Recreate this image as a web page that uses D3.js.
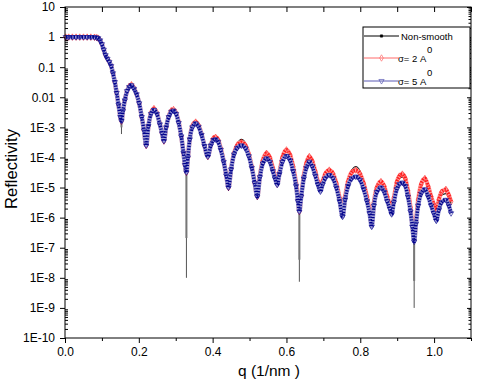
<!DOCTYPE html>
<html>
<head>
<meta charset="utf-8">
<script src="https://cdn.jsdelivr.net/npm/d3@7"></script>
<style>
	body { margin: 0; background: #fff; }
	text { font-family: Arial, "Liberation Sans", sans-serif; fill: #000; }
</style>
</head>
<body>
<div id="chart"></div>
<script>
'use strict';

// q values (1/nm), shared by the three curves
const q = [
	0.002, 0.01, 0.02, 0.03, 0.04, 0.05, 0.06, 0.07, 0.08, 0.086,
	0.09, 0.095, 0.1, 0.105, 0.11, 0.115, 0.12, 0.125, 0.13, 0.135, 0.14, 0.145, 0.15, 0.153,
	0.157, 0.162, 0.168, 0.174, 0.18, 0.187, 0.194, 0.201, 0.208, 0.214, 0.22,
	0.226, 0.233, 0.241, 0.249, 0.257, 0.263, 0.268,
	0.274, 0.281, 0.288, 0.294, 0.301, 0.308, 0.315, 0.321, 0.325, 0.329,
	0.333, 0.338, 0.345, 0.354, 0.362, 0.37, 0.378, 0.387,
	0.395, 0.402, 0.408, 0.415, 0.422, 0.43, 0.437, 0.443,
	0.45, 0.458, 0.467, 0.478, 0.489, 0.498, 0.506, 0.514, 0.521,
	0.528, 0.536, 0.546, 0.555, 0.563, 0.569, 0.575,
	0.581, 0.589, 0.6, 0.61, 0.618, 0.626, 0.631, 0.635,
	0.64, 0.647, 0.654, 0.662, 0.67, 0.678, 0.685, 0.692,
	0.698, 0.705, 0.716, 0.726, 0.735, 0.744, 0.752,
	0.759, 0.767, 0.777, 0.788, 0.799, 0.809, 0.818, 0.825, 0.831,
	0.837, 0.845, 0.856, 0.865, 0.873, 0.88, 0.885,
	0.891, 0.899, 0.906, 0.914, 0.922, 0.929, 0.936, 0.941, 0.946,
	0.951, 0.957, 0.965, 0.975, 0.984, 0.992, 0.999, 1.006,
	1.013, 1.02, 1.032, 1.04, 1.046
];

const nonSmooth = [
	1, 1, 1, 1, 1, 1, 1, 1, 0.99, 0.96,
	0.92, 0.78, 0.58, 0.38, 0.25, 0.19, 0.15, 0.11, 0.063, 0.032, 0.014, 5.6e-3, 2.2e-3, 1.6e-3,
	3.5e-3, 7.9e-3, 0.017, 0.026, 0.029, 0.023, 0.0135, 6.3e-3, 2.2e-3, 7.9e-4, 2.5e-4,
	1.1e-3, 2.9e-3, 4.0e-3, 2.9e-3, 1.3e-3, 6.3e-4, 3.5e-4,
	1.0e-3, 2.3e-3, 3.5e-3, 3.8e-3, 2.9e-3, 1.45e-3, 5.0e-4, 1.4e-4, 5.6e-5, 3.2e-5,
	1.0e-4, 4.1e-4, 1.05e-3, 1.45e-3, 1.1e-3, 5.8e-4, 2.4e-4, 1.07e-4,
	2.6e-4, 4.1e-4, 4.4e-4, 3.6e-4, 1.9e-4, 7.2e-5, 2.4e-5, 8.0e-6,
	4.0e-5, 1.4e-4, 2.9e-4, 4.0e-4, 3.0e-4, 1.4e-4, 5.0e-5, 1.4e-5, 4.5e-6,
	2.4e-5, 7.5e-5, 1.12e-4, 8.5e-5, 4.0e-5, 2.1e-5, 1.25e-5,
	3.0e-5, 9.0e-5, 1.58e-4, 1.05e-4, 4.5e-5, 1.3e-5, 3.8e-6, 1.6e-6,
	5.2e-6, 2.2e-5, 5.5e-5, 8.9e-5, 6.0e-5, 3.0e-5, 1.4e-5, 8.0e-6,
	1.5e-5, 2.6e-5, 3.5e-5, 2.7e-5, 1.3e-5, 4.0e-6, 1.1e-6,
	5.0e-6, 1.8e-5, 3.8e-5, 5.0e-5, 3.6e-5, 1.6e-5, 5.0e-6, 1.6e-6, 5.0e-7,
	3.0e-6, 9.0e-6, 1.4e-5, 1.0e-5, 4.5e-6, 2.4e-6, 1.6e-6,
	4.0e-6, 1.3e-5, 2.0e-5, 2.2e-5, 1.6e-5, 7.0e-6, 2.0e-6, 5.5e-7, 1.6e-7,
	7.0e-7, 3.5e-6, 1.1e-5, 1.6e-5, 9.0e-6, 4.0e-6, 2.2e-6, 1.26e-6,
	3.0e-6, 5.5e-6, 6.3e-6, 4.5e-6, 3.0e-6
];

const sigma2 = [
	1, 1, 1, 1, 1, 1, 1, 1, 0.99, 0.96,
	0.92, 0.78, 0.58, 0.38, 0.25, 0.19, 0.15, 0.11, 0.063, 0.032, 0.014, 5.6e-3, 2.2e-3, 1.6e-3,
	3.5e-3, 7.9e-3, 0.016, 0.023, 0.026, 0.020, 0.0126, 6.3e-3, 2.2e-3, 7.9e-4, 2.5e-4,
	1.1e-3, 3.0e-3, 4.2e-3, 3.0e-3, 1.3e-3, 6.3e-4, 3.5e-4,
	1.0e-3, 2.3e-3, 3.6e-3, 3.9e-3, 3.0e-3, 1.5e-3, 5.0e-4, 1.4e-4, 5.6e-5, 3.2e-5,
	1.0e-4, 4.2e-4, 1.1e-3, 1.5e-3, 1.15e-3, 6.0e-4, 2.4e-4, 1.07e-4,
	2.6e-4, 4.3e-4, 4.7e-4, 3.8e-4, 2.0e-4, 7.5e-5, 2.5e-5, 1.0e-5,
	4.2e-5, 1.4e-4, 2.6e-4, 3.2e-4, 2.5e-4, 1.3e-4, 5.0e-5, 1.4e-5, 5.0e-6,
	2.5e-5, 8.0e-5, 1.38e-4, 1.0e-4, 4.5e-5, 2.3e-5, 1.3e-5,
	3.2e-5, 1.0e-4, 1.78e-4, 1.2e-4, 5.0e-5, 1.4e-5, 4.0e-6, 1.6e-6,
	5.5e-6, 2.5e-5, 6.5e-5, 1.07e-4, 7.5e-5, 3.5e-5, 1.6e-5, 8.5e-6,
	1.6e-5, 2.8e-5, 3.8e-5, 2.9e-5, 1.4e-5, 4.5e-6, 1.2e-6,
	5.0e-6, 1.6e-5, 3.2e-5, 3.8e-5, 2.9e-5, 1.4e-5, 5.0e-6, 1.8e-6, 6.0e-7,
	3.2e-6, 1.0e-5, 1.58e-5, 1.1e-5, 5.0e-6, 2.8e-6, 2.0e-6,
	4.5e-6, 1.5e-5, 2.4e-5, 2.8e-5, 2.0e-5, 8.0e-6, 2.2e-6, 6.0e-7, 1.8e-7,
	8.0e-7, 4.0e-6, 1.3e-5, 2.0e-5, 1.1e-5, 5.0e-6, 2.8e-6, 1.8e-6,
	4.0e-6, 7.0e-6, 8.7e-6, 5.5e-6, 3.4e-6
];

const sigma5 = [
	1, 1, 1, 1, 1, 1, 1, 1, 0.99, 0.96,
	0.92, 0.78, 0.58, 0.38, 0.25, 0.19, 0.15, 0.11, 0.063, 0.032, 0.014, 5.6e-3, 2.2e-3, 1.6e-3,
	3.5e-3, 7.9e-3, 0.016, 0.022, 0.025, 0.019, 0.0126, 6.3e-3, 2.2e-3, 7.9e-4, 2.5e-4,
	1.1e-3, 2.8e-3, 3.8e-3, 2.8e-3, 1.26e-3, 6.3e-4, 3.5e-4,
	1.0e-3, 2.2e-3, 3.3e-3, 3.6e-3, 2.8e-3, 1.4e-3, 5.0e-4, 1.4e-4, 5.6e-5, 3.2e-5,
	1.0e-4, 4.0e-4, 1.0e-3, 1.35e-3, 1.05e-3, 5.6e-4, 2.4e-4, 1.07e-4,
	2.5e-4, 3.8e-4, 4.0e-4, 3.3e-4, 1.8e-4, 7.1e-5, 2.5e-5, 1.0e-5,
	4.0e-5, 1.26e-4, 2.1e-4, 2.5e-4, 2.0e-4, 1.1e-4, 4.5e-5, 1.4e-5, 5.0e-6,
	2.2e-5, 6.3e-5, 9.3e-5, 7.1e-5, 3.5e-5, 2.0e-5, 1.23e-5,
	2.8e-5, 7.1e-5, 1.12e-4, 7.9e-5, 3.5e-5, 1.12e-5, 3.5e-6, 1.6e-6,
	5.0e-6, 2.0e-5, 4.5e-5, 7.2e-5, 5.0e-5, 2.5e-5, 1.26e-5, 7.4e-6,
	1.26e-5, 2.0e-5, 2.6e-5, 2.0e-5, 1.0e-5, 3.5e-6, 1.07e-6,
	4.0e-6, 1.12e-5, 2.0e-5, 2.3e-5, 1.8e-5, 8.9e-6, 3.5e-6, 1.4e-6, 5.0e-7,
	2.5e-6, 7.1e-6, 1.0e-5, 7.1e-6, 3.5e-6, 2.0e-6, 1.3e-6,
	3.2e-6, 8.9e-6, 1.3e-5, 1.45e-5, 1.12e-5, 5.0e-6, 1.6e-6, 5.0e-7, 1.6e-7,
	6.3e-7, 2.5e-6, 6.3e-6, 8.7e-6, 5.0e-6, 2.5e-6, 1.4e-6, 7.9e-7,
	1.8e-6, 3.2e-6, 3.9e-6, 2.5e-6, 1.4e-6
];

// sharp dips of the non-smooth curve
const spikeQ   = [0.153, 0.329, 0.635, 0.946];
const spikeTop = [1.6e-3, 3.2e-5, 1.6e-6, 1.6e-7];
const spikeMid = [1.0e-3, 2.1e-7, 4.0e-8, 7.9e-9];
const spikeLow = [6.0e-4, 1.0e-8, 7.4e-9, 1.0e-9];

const xTicks      = [0, 0.2, 0.4, 0.6, 0.8, 1.0];
const xMinorTicks = [0.1, 0.3, 0.5, 0.7, 0.9, 1.1];
const yTicks      = [10, 1, 0.1, 0.01, 1e-3, 1e-4, 1e-5, 1e-6, 1e-7, 1e-8, 1e-9, 1e-10];
const yTickLabels = ["10", "1", "0.1", "0.01", "1E-3", "1E-4", "1E-5", "1E-6", "1E-7", "1E-8", "1E-9", "1E-10"];

const legendNames = ["Non-smooth", "σ= 2 A", "σ= 5 A"];


const drawChart = () =>
{
	const left   = 65;
	const top    = 7;
	const width  = 406;
	const height = 331;

	const x = d3.scaleLinear().domain([0, 1.1]).range([0, width]);
	const y = d3.scaleLog().domain([1e-10, 10]).range([height, 0]);

	const svg = d3.select("#chart")
		.append("svg")
		.attr("width", 480)
		.attr("height", 382);

	const g = svg.append("g")
		.attr("transform", "translate(" + left + "," + top + ")");

	const rows = values => q.map((qq, i) => ({ q: qq, v: values[i] }));

	const line = d3.line()
		.x(d => x(d.q))
		.y(d => y(d.v))
		.curve(d3.curveMonotoneX);

	// minor log ticks 2..9 of each decade
	const yMinor = [];
	yTicks.slice(1).forEach(dec => d3.range(2, 10).forEach(k => yMinor.push(dec * k)));

	// ---- axes ----
	const axisStyle = sel =>
	{
		sel.select(".domain").remove();
		sel.selectAll("line").attr("stroke", "#000");
		sel.selectAll("text").style("font-size", "12px").attr("fill", "#000");
	};

	g.append("g")
		.attr("transform", "translate(0," + height + ")")
		.call(d3.axisBottom(x).tickValues(xTicks).tickSize(5).tickPadding(4.5).tickFormat(d3.format(".1f")))
		.call(axisStyle);

	g.append("g")
		.attr("transform", "translate(0," + height + ")")
		.call(d3.axisBottom(x).tickValues(xMinorTicks).tickSize(3).tickFormat(""))
		.call(axisStyle);

	g.append("g")
		.call(d3.axisTop(x).tickValues(xTicks.concat(xMinorTicks)).tickSize(-5).tickFormat(""))
		.call(axisStyle);

	g.append("g")
		.call(d3.axisLeft(y).tickValues(yTicks).tickSize(5).tickPadding(5).tickFormat((d, i) => yTickLabels[i]))
		.call(axisStyle);

	g.append("g")
		.call(d3.axisLeft(y).tickValues(yMinor).tickSize(-3).tickFormat(""))
		.call(axisStyle);

	g.append("g")
		.attr("transform", "translate(" + width + ",0)")
		.call(d3.axisRight(y).tickValues(yTicks).tickSize(-4).tickFormat(""))
		.call(axisStyle);

	g.append("g")
		.attr("transform", "translate(" + width + ",0)")
		.call(d3.axisRight(y).tickValues(yMinor).tickSize(-2.5).tickFormat(""))
		.call(axisStyle);

	// ---- curves ----
	const spikes = spikeQ.map((sq, i) => ({ q: sq, top: spikeTop[i], mid: spikeMid[i], low: spikeLow[i] }));

	g.selectAll(".spike-thin")
		.data(spikes)
		.enter()
			.append("line")
			.attr("class", "spike-thin")
			.attr("x1", d => x(d.q))
			.attr("x2", d => x(d.q))
			.attr("y1", d => y(d.top))
			.attr("y2", d => y(d.low))
			.attr("stroke", "#555")
			.attr("stroke-width", 1);

	g.selectAll(".spike-thick")
		.data(spikes)
		.enter()
			.append("line")
			.attr("class", "spike-thick")
			.attr("x1", d => x(d.q))
			.attr("x2", d => x(d.q))
			.attr("y1", d => y(d.top))
			.attr("y2", d => y(d.mid))
			.attr("stroke", "#777")
			.attr("stroke-width", 2);

	g.append("path")
		.datum(rows(nonSmooth))
		.attr("d", line)
		.attr("fill", "none")
		.attr("stroke", "#222")
		.attr("stroke-width", 1.1);

	const band = (values, light, dark, symbol, rotate, cls) =>
	{
		const data = rows(values);

		g.append("path")
			.datum(data)
			.attr("d", line)
			.attr("fill", "none")
			.attr("stroke", light)
			.attr("stroke-width", 4.4);

		g.append("path")
			.datum(data)
			.attr("d", line)
			.attr("fill", "none")
			.attr("stroke", dark)
			.attr("stroke-width", 3.4)
			.attr("stroke-dasharray", "1.2 1.5");

		g.selectAll("." + cls)
			.data(data)
			.enter()
				.append("path")
				.attr("class", cls)
				.attr("d", d3.symbol().type(symbol).size(12))
				.attr("transform", d => "translate(" + x(d.q) + "," + y(d.v) + ") rotate(" + rotate + ")")
				.attr("fill", "none")
				.attr("stroke", dark)
				.attr("stroke-width", 0.6);
	};

	band(sigma2, "#ff9c9c", "#ff1a1a", d3.symbolDiamond, 0, "m2");
	band(sigma5, "#9a9ad4", "#00008b", d3.symbolTriangle, 180, "m5");

	// ---- frame ----
	g.append("rect")
		.attr("width", width)
		.attr("height", height)
		.attr("fill", "none")
		.attr("stroke", "#000")
		.attr("stroke-width", 1);

	// ---- axis titles ----
	svg.append("text")
		.attr("x", 269)
		.attr("y", 376)
		.attr("text-anchor", "middle")
		.style("font-size", "15.5px")
		.text("q (1/nm )");

	svg.append("text")
		.attr("transform", "translate(17,169) rotate(-90)")
		.attr("text-anchor", "middle")
		.style("font-size", "16.5px")
		.text("Reflectivity");

	// ---- legend ----
	const legend = svg.append("g");

	legend.append("rect")
		.attr("x", 363)
		.attr("y", 27)
		.attr("width", 107)
		.attr("height", 61)
		.attr("fill", "#fff")
		.attr("stroke", "#000")
		.attr("stroke-width", 1);

	const legendY      = [36, 58, 81];
	const legendColors = ["#000", "#ff6a6a", "#5a5ab4"];
	const legendMarks  = [d3.symbolSquare, d3.symbolDiamond, d3.symbolTriangle];

	legendNames.forEach((name, i) =>
	{
		legend.append("line")
			.attr("x1", 364)
			.attr("x2", 399)
			.attr("y1", legendY[i])
			.attr("y2", legendY[i])
			.attr("stroke", legendColors[i])
			.attr("stroke-width", 1);

		legend.append("path")
			.attr("d", d3.symbol().type(legendMarks[i]).size(i === 0 ? 5 : 12))
			.attr("transform", "translate(381.5," + legendY[i] + ") rotate(" + (i === 2 ? 180 : 0) + ")")
			.attr("fill", i === 0 ? "#000" : "none")
			.attr("stroke", legendColors[i])
			.attr("stroke-width", 0.7);

		legend.append("text")
			.attr("x", i === 0 ? 401 : 398)
			.attr("y", legendY[i] + 3.5)
			.style("font-size", "9.5px")
			.text(name);

		if (i > 0)
		{
			legend.append("text")
				.attr("x", 427)
				.attr("y", legendY[i] - 5)
				.style("font-size", "9.5px")
				.text("0");
		}
	});
};


document.addEventListener("DOMContentLoaded", () =>
{
	drawChart();
}, false);
</script>
</body>
</html>
